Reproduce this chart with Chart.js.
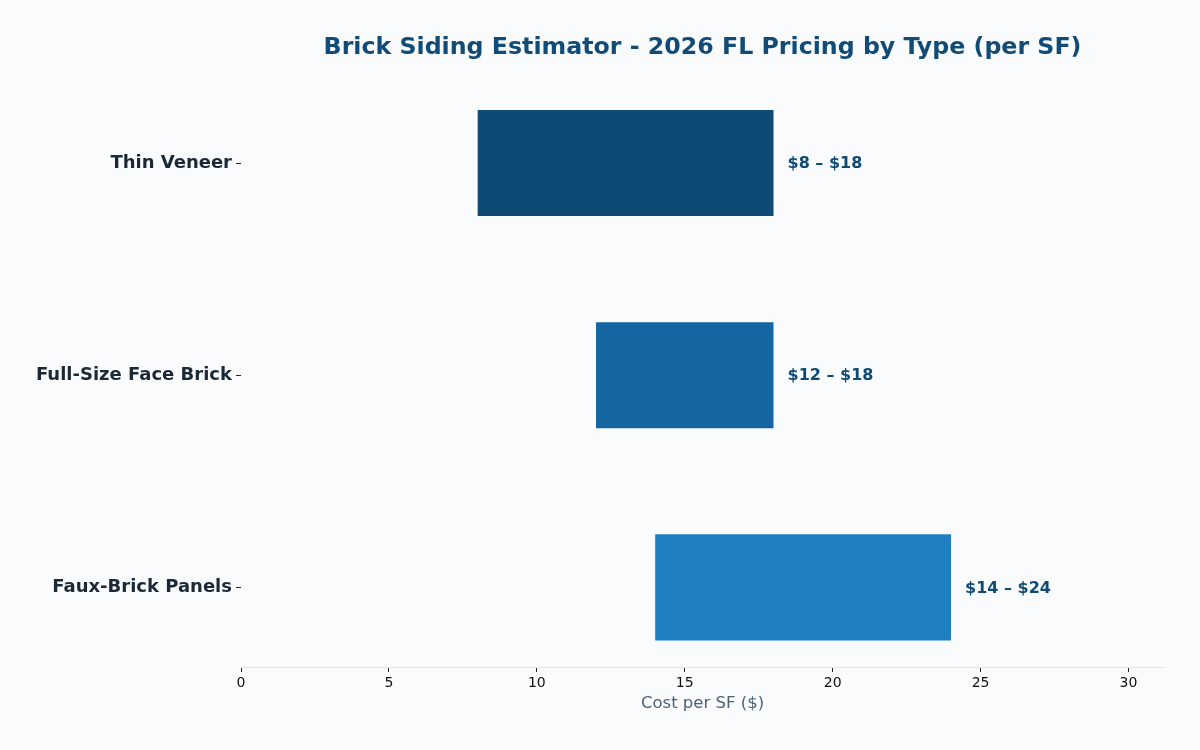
<!DOCTYPE html>
<html>
<head>
<meta charset="utf-8">
<script src="https://cdn.jsdelivr.net/npm/chart.js@4/dist/chart.umd.min.js"></script>
<style>
  html, body { margin: 0; padding: 0; background: #f9fbfd; }
  #wrap { width: 1200px; height: 750px; }
</style>
</head>
<body>
<div id="wrap"><canvas id="c" width="1200" height="750"></canvas></div>
<script>
const categories = ['Thin Veneer', 'Full-Size Face Brick', 'Faux-Brick Panels'];
const lowValues = [8, 12, 14];
const highValues = [18, 18, 24];
const barColors = ['#0f4a75', '#1565a0', '#1f7fc1'];
const xTicks = [0, 5, 10, 15, 20, 25, 30];

const FONT = "'DejaVu Sans', sans-serif";

const labelPlugin = {
  id: 'rangeLabels',
  afterDatasetsDraw(chart) {
    const ctx = chart.ctx;
    const meta = chart.getDatasetMeta(0);
    ctx.save();
    ctx.font = "bold 16px " + FONT;
    ctx.fillStyle = '#0f4a75';
    ctx.textBaseline = 'middle';
    ctx.textAlign = 'left';
    meta.data.forEach((el, i) => {
      const end = Math.max(el.x, el.base);
      ctx.fillText('$' + lowValues[i] + ' \u2013 $' + highValues[i], end + 14, el.y + 1);
    });
    ctx.restore();
  }
};

const bgPlugin = {
  id: 'bg',
  beforeDraw(chart) {
    const ctx = chart.ctx;
    ctx.save();
    ctx.fillStyle = '#f9fbfd';
    ctx.fillRect(0, 0, chart.width, chart.height);
    ctx.restore();
  }
};

new Chart(document.getElementById('c'), {
  type: 'bar',
  data: {
    datasets: [{
      data: categories.map((c, i) => ({ y: i, x: [lowValues[i], highValues[i]] })),
      backgroundColor: barColors,
      borderWidth: 0,
      barPercentage: 0.5,
      categoryPercentage: 1.0
    }]
  },
  options: {
    indexAxis: 'y',
    responsive: false,
    animation: false,
    layout: { padding: { left: 0, right: 36, top: 0, bottom: 36 } },
    plugins: {
      legend: { display: false },
      tooltip: { enabled: false },
      title: {
        display: true,
        text: 'Brick Siding Estimator - 2026 FL Pricing by Type (per SF)',
        color: '#114b77',
        font: { family: FONT, size: 23.7, weight: 'bold' },
        fullSize: false,
        padding: { top: 34, bottom: 21 }
      }
    },
    scales: {
      x: {
        type: 'linear',
        min: 0,
        max: 31.2,
        afterBuildTicks: (axis) => { axis.ticks = xTicks.map(v => ({ value: v })); },
        afterFit: (axis) => { axis.height = 47; },
        grid: { display: true, drawOnChartArea: false, tickLength: 5, tickColor: '#222', tickWidth: 1 },
        border: { display: true, color: '#dfe4ea', width: 1 },
        ticks: { color: '#111', font: { family: FONT, size: 14 }, padding: 3 },
        title: {
          display: true,
          text: 'Cost per SF ($)',
          color: '#4d6177',
          font: { family: FONT, size: 16.5 },
          padding: { top: 4, bottom: 0 }
        }
      },
      y: {
        type: 'linear',
        reverse: true,
        offset: false,
        min: -0.375,
        max: 2.375,
        afterBuildTicks: (axis) => { axis.ticks = categories.map((c, i) => ({ value: i })); },
        afterFit: (axis) => { axis.width = 241; },
        grid: { display: true, offset: false, drawOnChartArea: false, tickLength: 5, tickColor: '#222', tickWidth: 1 },
        border: { display: false },
        ticks: {
          color: '#1b2836',
          font: { family: FONT, size: 18, weight: 'bold' },
          padding: 4,
          callback: (v) => categories[v]
        }
      }
    }
  },
  plugins: [bgPlugin, labelPlugin]
});
</script>
</body>
</html>
